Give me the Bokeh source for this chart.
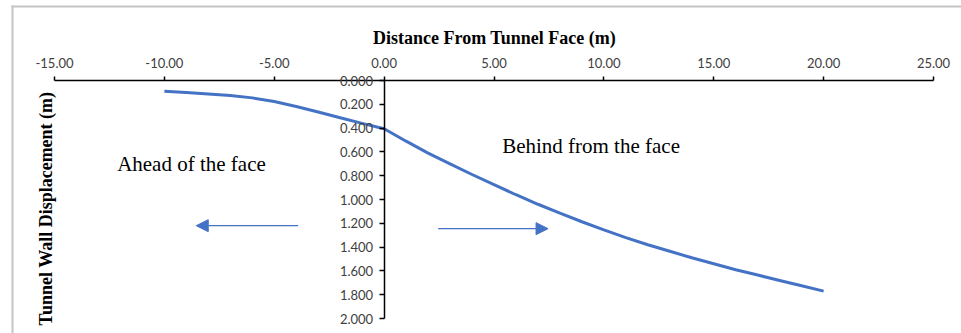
import math
from bokeh.plotting import figure
from bokeh.models import (Range1d, FixedTicker, NumeralTickFormatter, Label, Arrow,
                          NormalHead, BoxAnnotation, LinearAxis)
from bokeh.embed import file_html
from bokeh.resources import INLINE

# Data
distance = [-10, -9, -8, -7, -6, -5, -4, -3, -2, -1, 0, 1, 2, 3, 4, 5, 6, 7, 8, 9, 10,
            11, 12, 13, 14, 15, 16, 17, 18, 19, 20]
displacement = [0.090, 0.101, 0.113, 0.127, 0.146, 0.176, 0.218, 0.265, 0.313, 0.360, 0.405,
                0.51, 0.61, 0.70, 0.79, 0.875, 0.96, 1.04, 1.115, 1.187, 1.255,
                1.32, 1.38, 1.435, 1.49, 1.54, 1.59, 1.635, 1.68, 1.725, 1.77]
x_ticks = [-15, -10, -5, 0, 5, 10, 15, 20, 25]
y_ticks = [0.0, 0.2, 0.4, 0.6, 0.8, 1.0, 1.2, 1.4, 1.6, 1.8, 2.0]

BLUE = "#4472C4"
SERIF = "Liberation Serif"
SANS = "Lato"

W, H = 961, 333
# plot area (axis extents) in pixels
AX_L, AX_R, AX_T, AX_B = 54, 933, 80, 318
X0, X1 = -15.0, 25.0
Y0, Y1 = 0.0, 2.0
sx = (AX_R - AX_L) / (X1 - X0)
sy = (AX_B - AX_T) / (Y1 - Y0)
x_range = Range1d(X0 - AX_L / sx, X1 + (W - AX_R) / sx)
y_range = Range1d(Y1 + (H - AX_B) / sy, Y0 - AX_T / sy)


def dx(px):
    return X0 + (px - AX_L) / sx


def dy(py):
    return Y0 + (py - AX_T) / sy


p = figure(width=W, height=H, output_backend="svg", toolbar_location=None,
           x_range=x_range, y_range=y_range,
           x_axis_location=None, y_axis_location=None,
           min_border=0, min_border_left=0, min_border_right=0,
           min_border_top=0, min_border_bottom=0)
p.outline_line_color = None
p.background_fill_color = "white"
p.border_fill_color = "white"
p.xgrid.visible = False
p.ygrid.visible = False

# Top x axis, at y = 0
xa = LinearAxis(ticker=FixedTicker(ticks=x_ticks),
                formatter=NumeralTickFormatter(format="0.00"),
                fixed_location=0, bounds=(X0, X1))
xa.axis_line_color = "black"
xa.axis_line_width = 1.5
xa.major_tick_line_color = "black"
xa.major_tick_line_width = 1.5
xa.major_tick_out = 4
xa.major_tick_in = 0
xa.minor_tick_out = 0
xa.minor_tick_in = 0
xa.major_label_standoff = 9
xa.major_label_text_font = SANS
xa.major_label_text_font_size = "13px"
xa.major_label_text_color = "#404040"
p.add_layout(xa, "above")

# Y axis crossing at x = 0
ya = LinearAxis(ticker=FixedTicker(ticks=y_ticks),
                formatter=NumeralTickFormatter(format="0.000"),
                fixed_location=0, bounds=(Y0, Y1))
ya.axis_line_color = "black"
ya.axis_line_width = 1.5
ya.major_tick_line_color = "black"
ya.major_tick_line_width = 1.5
ya.major_tick_out = 5
ya.major_tick_in = 0
ya.minor_tick_out = 0
ya.minor_tick_in = 0
ya.major_label_standoff = 6
ya.major_label_text_font = SANS
ya.major_label_text_font_size = "13px"
ya.major_label_text_color = "#404040"
p.add_layout(ya, "left")

# Curve
p.line(distance, displacement, line_color=BLUE, line_width=3)

# Axis titles
p.add_layout(Label(x=dx(494), y=dy(37), text="Distance From Tunnel Face (m)",
                   text_align="center", text_baseline="middle", text_font=SERIF,
                   text_font_style="bold", text_font_size="18px", text_color="black"))
p.add_layout(Label(x=dx(45), y=dy(208), text="Tunnel Wall Displacement (m)", angle=math.pi / 2,
                   text_align="center", text_baseline="middle", text_font=SERIF,
                   text_font_style="bold", text_font_size="18px", text_color="black"))

# Annotations
p.add_layout(Label(x=-12.15, y=0.70, text="Ahead of the face", text_align="left",
                   text_baseline="middle", text_font=SERIF, text_font_size="21px",
                   text_color="black"))
p.add_layout(Label(x=5.37, y=0.55, text="Behind from the face", text_align="left",
                   text_baseline="middle", text_font=SERIF, text_font_size="21px",
                   text_color="black"))

p.add_layout(Arrow(x_start=-3.91, y_start=1.22, x_end=-8.55, y_end=1.22,
                   line_color=BLUE, line_width=1.3,
                   end=NormalHead(size=12, fill_color=BLUE, line_color=BLUE)))
p.add_layout(Arrow(x_start=2.46, y_start=1.245, x_end=7.46, y_end=1.245,
                   line_color=BLUE, line_width=1.3,
                   end=NormalHead(size=12, fill_color=BLUE, line_color=BLUE)))

# Chart-area frame (grey border at left and top), drawn as thin strips
GREY = "#c4c4c4"
p.add_layout(BoxAnnotation(left=dx(11), right=dx(13), top=dy(5), bottom=dy(340),
                           fill_color=GREY, fill_alpha=1.0, line_color=None))
p.add_layout(BoxAnnotation(left=dx(11), right=dx(961), top=dy(5), bottom=dy(7),
                           fill_color=GREY, fill_alpha=1.0, line_color=None))

open("out.html", "w").write(file_html(p, INLINE))
